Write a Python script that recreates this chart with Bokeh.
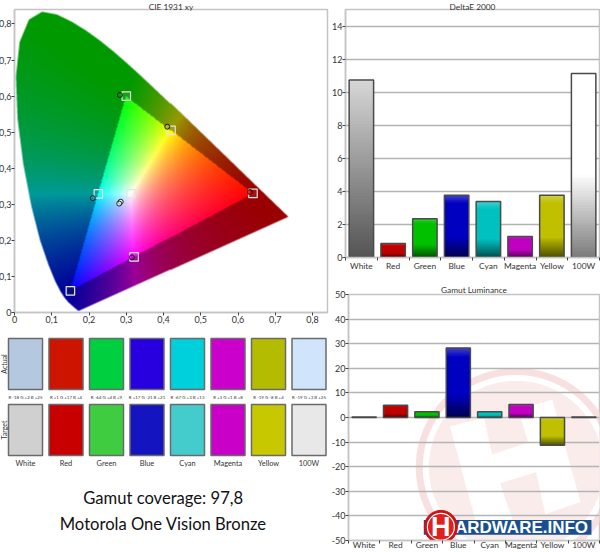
import numpy as np
from bokeh.embed import file_html
from bokeh.resources import INLINE
from bokeh.plotting import figure
from bokeh.layouts import row, column
from bokeh.models import Range1d, FixedTicker
from bokeh.core.properties import value

categories = ["White", "Red", "Green", "Blue", "Cyan", "Magenta", "Yellow", "100W"]
delta_e = [10.75, 0.85, 2.35, 3.78, 3.40, 1.27, 3.78, 11.15]
luminance = [0.2, 5.0, 2.3, 28.3, 2.3, 5.3, -11.3, 0.2]
rgb_diff = ["R -18 G +2 B +25", "R +1 G +17 B +4", "R -64 G +4 B +9", "R +17 G -21 B +21",
            "R -67 G +3 B +13", "R +3 G +1 B +8", "R -19 G -8 B +4", "R -19 G +3 B +25"]
actual_colors = ["#b4c8e0", "#cc1400", "#00d040", "#2800e0", "#00d0dc", "#cc00cc", "#b4bc00", "#d0e4fc"]
target_colors = ["#d0d0d0", "#c80000", "#40cc40", "#1414c0", "#44cccc", "#c800c8", "#c8c800", "#e8e8e8"]
bar_colors = ["#c0c0c0", "#c00000", "#00c000", "#0000c0", "#00c0c0", "#c000c0", "#c0c000", "#ffffff"]
target_x = [0.64, 0.30, 0.15, 0.225, 0.321, 0.42, 0.3127]
target_y = [0.33, 0.60, 0.06, 0.329, 0.154, 0.505, 0.329]
actual_x = [0.632, 0.283, 0.152, 0.210, 0.315, 0.410, 0.285, 0.281]
actual_y = [0.334, 0.603, 0.060, 0.317, 0.153, 0.515, 0.307, 0.302]
actual_fill = ["#c00000", "#00a000", "#000090", "#00a0c0", "#c000c0", "#a0a000", "#ffffff", "#ffffff"]
xy_ticks = [0, 0.1, 0.2, 0.3, 0.4, 0.5, 0.6, 0.7, 0.8]
locus_x = [0.1741, 0.1738, 0.1733, 0.1726, 0.1714, 0.1703, 0.1689, 0.1669, 0.1644, 0.1611, 0.1566, 0.1510,
           0.1440, 0.1355, 0.1241, 0.1096, 0.0913, 0.0687, 0.0454, 0.0235, 0.0082, 0.0039, 0.0139, 0.0389,
           0.0743, 0.1142, 0.1547, 0.1929, 0.2296, 0.2658, 0.3016, 0.3373, 0.3731, 0.4087, 0.4441, 0.4788,
           0.5125, 0.5448, 0.5752, 0.6029, 0.6270, 0.6482, 0.6658, 0.6915, 0.7079, 0.7190, 0.7260, 0.7347]
locus_y = [0.0050, 0.0049, 0.0048, 0.0048, 0.0051, 0.0058, 0.0069, 0.0086, 0.0109, 0.0138, 0.0177, 0.0227,
           0.0297, 0.0399, 0.0578, 0.0868, 0.1327, 0.2007, 0.2950, 0.4127, 0.5384, 0.6548, 0.7502, 0.8120,
           0.8338, 0.8262, 0.8059, 0.7816, 0.7543, 0.7243, 0.6923, 0.6589, 0.6245, 0.5896, 0.5547, 0.5202,
           0.4866, 0.4544, 0.4242, 0.3965, 0.3725, 0.3514, 0.3340, 0.3083, 0.2920, 0.2809, 0.2740, 0.2653]

FONT = "Lato"
INK = "#333333"
AXIS = "#c4c4c4"


def to_rgba(r, g, b, a=None):
    a = np.full(r.shape, 255) if a is None else a
    return (a.astype(np.uint32) << 24) | (b.astype(np.uint32) << 16) | (g.astype(np.uint32) << 8) | r.astype(np.uint32)


def locus_mask(X, Y):
    px, py = np.array(locus_x), np.array(locus_y)
    qx, qy = np.roll(px, 1), np.roll(py, 1)
    inside = np.zeros(X.shape, dtype=bool)
    for x0, y0, x1, y1 in zip(px, py, qx, qy):
        crossing = ((y0 > Y) != (y1 > Y)) & (X < (x1 - x0) * (Y - y0) / ((y1 - y0) or 1e-9) + x0)
        inside ^= crossing
    return inside


def cie_image(w, h, extent, ss=4):
    xs = (np.arange(w) + 0.5) / w * extent
    ys = (np.arange(h) + 0.5) / h * extent
    X, Y = np.meshgrid(xs, ys)
    xf = (np.arange(w * ss) + 0.5) / (w * ss) * extent
    yf = (np.arange(h * ss) + 0.5) / (h * ss) * extent
    fine = locus_mask(*np.meshgrid(xf, yf))
    alpha = fine.reshape(h, ss, w, ss).mean(axis=(1, 3)) * 255
    cx, cy, cz = X / Y, np.ones_like(X), (1 - X - Y) / Y
    r = 3.2406 * cx - 1.5372 * cy - 0.4986 * cz
    g = -0.9689 * cx + 1.8758 * cy + 0.0415 * cz
    b = 0.0557 * cx - 0.2040 * cy + 1.0570 * cz
    in_gamut = (r >= 0) & (g >= 0) & (b >= 0)
    stack = np.clip(np.stack([r, g, b]), 0, None)
    stack = stack / stack.max(axis=0, keepdims=True)
    shown = np.where(in_gamut, stack ** (1 / 1.15), stack * 0.6)
    shown = np.nan_to_num(shown * 255).astype(np.uint32)
    return to_rgba(shown[0], shown[1], shown[2], alpha.astype(np.uint32))


def hex_rgb(c):
    return np.array([int(c[i:i + 2], 16) for i in (1, 3, 5)], dtype=float)


def bar_gradient(color, n=64):
    base = hex_rgb(color)
    t = np.linspace(0, 1, n)  # 0 = top of bar
    if color == "#c0c0c0":
        stops, vals = [0, 1], [np.array([215.] * 3), np.array([85.] * 3)]
    elif color == "#ffffff":
        stops, vals = [0, 0.55, 1], [np.array([255.] * 3), np.array([255.] * 3), np.array([125.] * 3)]
    else:
        stops = [0, 0.14, 0.68, 1]
        vals = [base + (255 - base) * 0.25, base, base, base * 0.42]
    cols = np.stack([np.interp(t, stops, [v[i] for v in vals]) for i in range(3)])
    cols = cols[:, ::-1].astype(np.uint32)  # image rows run bottom-up
    return to_rgba(cols[0], cols[1], cols[2]).reshape(n, 1)


def style_axes(p, yticks, size="9px"):
    for ax in (p.xaxis[0], p.yaxis[0]):
        ax.axis_line_color = AXIS
        ax.axis_line_width = 1.5
        ax.major_tick_line_color = "#444444"
        ax.minor_tick_line_color = "#444444"
        ax.major_tick_in = 0
        ax.minor_tick_in = 0
        ax.major_tick_out = 3
        ax.minor_tick_out = 0
        ax.major_label_standoff = 0
        ax.major_label_text_font = FONT
        ax.major_label_text_font_size = size
        ax.major_label_text_color = INK
    p.yaxis[0].ticker = FixedTicker(ticks=yticks)
    p.yaxis[0].major_label_overrides = {t: str(t).replace(".", ",") for t in yticks}
    p.outline_line_color = AXIS
    p.outline_line_width = 1.5
    p.title.text_font = FONT
    p.title.text_font_size = "8.3px"
    p.title.text_font_style = "normal"
    p.title.text_color = INK
    p.title.align = "center"
    p.title.standoff = -4
    p.title.offset = 0


def bar_chart(title, vals, yrange, yticks, w, h, borders, standoff=0, label_off=0, margin=(0, 0, 0, 0)):
    left, right, top, bottom = borders
    p = figure(width=w, height=h, title=title, x_range=Range1d(0, 8), y_range=Range1d(*yrange),
               output_backend="svg", toolbar_location=None, min_border_left=left, min_border_right=right,
               min_border_top=top, min_border_bottom=bottom, background_fill_color="white", margin=margin)
    style_axes(p, yticks)
    p.title.standoff = standoff
    p.xaxis[0].ticker = FixedTicker(ticks=[i + 0.5 for i in range(8)], minor_ticks=list(range(9)))
    p.xaxis[0].major_label_overrides = {i + 0.5: c for i, c in enumerate(categories)}
    p.xaxis[0].major_label_text_font_size = "8.4px"
    p.xaxis[0].major_tick_out = 0
    p.xaxis[0].minor_tick_out = 3
    p.xaxis[0].major_label_standoff = label_off
    p.xgrid.visible = False
    p.ygrid[0].ticker = FixedTicker(ticks=yticks)
    p.ygrid.grid_line_color = "#b4b4b4"
    p.ygrid.grid_line_width = 1.5
    bw = 0.77
    for i, v in enumerate(vals):
        lo, hi = min(v, 0), max(v, 0)
        p.image_rgba(image=[bar_gradient(bar_colors[i])], x=i + 0.5 - bw / 2, y=lo, dw=bw, dh=hi - lo)
    p.quad(left=[i + 0.5 - bw / 2 for i in range(8)], right=[i + 0.5 + bw / 2 for i in range(8)],
           bottom=[min(v, 0) for v in vals], top=[max(v, 0) for v in vals],
           fill_alpha=0, line_color="#4a4a4a", line_width=1.5)
    return p


# ---- CIE diagram
extent = 0.84
p1 = figure(width=338, height=330, title="CIE 1931 xy", x_range=Range1d(0, extent), y_range=Range1d(0, extent),
            output_backend="svg", toolbar_location=None, min_border_left=15, min_border_right=3,
            min_border_top=9, min_border_bottom=18, margin=(0, 0, 0, -4))
style_axes(p1, xy_ticks)
p1.xaxis[0].ticker = FixedTicker(ticks=xy_ticks)
p1.xaxis[0].major_label_overrides = {t: str(t).replace(".", ",") for t in xy_ticks}
p1.grid.visible = False
p1.image_rgba(image=[cie_image(312, 303, extent)], x=0, y=0, dw=extent, dh=extent)
p1.scatter(target_x, target_y, marker="square", size=8.5, fill_color="white", fill_alpha=0.08,
           line_color="#e4e4e4", line_width=1.2)
p1.scatter(actual_x, actual_y, marker="circle", size=5, fill_color=actual_fill, fill_alpha=0.6,
           line_color="#111111", line_width=0.9)

# ---- swatches and captions
p2 = figure(width=330, height=222, x_range=Range1d(-25 / 40.5, 305 / 40.5), y_range=Range1d(222, 0),
            output_backend="svg", toolbar_location=None, min_border=0, outline_line_color=None)
p2.axis.visible = False
p2.grid.visible = False
xi = list(range(8))
p2.rect(xi, [33.5] * 8, width=0.84, height=51, fill_color=actual_colors, line_color="#6a6a6a", line_width=1.5)
p2.rect(xi, [99.5] * 8, width=0.84, height=51, fill_color=target_colors, line_color="#6a6a6a", line_width=1.5)
p2.text(xi, [66.5] * 8, text=rgb_diff, text_font=value(FONT), text_font_size="4.4px", text_color=INK,
        text_align="center", text_baseline="middle")
p2.text(xi, [132.5] * 8, text=categories, text_font=value(FONT), text_font_size="7.4px", text_color=INK,
        text_align="center", text_baseline="middle")
p2.text([-0.53] * 2, [33.5, 99.5], text=["Actual", "Target"], angle=np.pi / 2, text_font=value(FONT),
        text_font_size="7px", text_color=INK, text_align="center", text_baseline="middle")
p2.text([3.4, 3.4], [167, 193], text=["Gamut coverage: 97,8", "Motorola One Vision Bronze"], text_font=value(FONT),
        text_font_size="16.6px", text_color="#111111", text_align="center", text_baseline="middle")

# ---- bar charts
p3 = bar_chart("DeltaE 2000", delta_e, (0, 15.03), list(range(0, 15, 2)), 276, 280, (16, 1, 9, 23), standoff=-4,
               margin=(0, 0, 0, -5))
p4 = bar_chart("Gamut Luminance", luminance, (-50, 50), list(range(-50, 51, 10)), 278, 272, (19, 1, 14, 10),
               label_off=-4, margin=(0, 0, 0, -6))

# watermark and logo, positioned in reference pixels of the lower chart
fx = lambda px: (np.asarray(px, dtype=float) - 349) / (600 - 349 - 1) * 8
fy = lambda py: 50 - (np.asarray(py, dtype=float) - 294) / (541.7 - 294) * 100


def disc(cx, cy, r, n=120):
    a = np.linspace(0, 2 * np.pi, n)
    return fx(cx + r * np.cos(a)), fy(cy + r * np.sin(a))


for r, col in ((100, "#f9e0e0"), (93, "#ffffff"), (87, "#fbecec")):
    xs, ys = disc(516, 468, r)
    p4.patch(xs, ys, fill_color=col, line_color=None, level="image")
hx = [450, 484, 492, 528, 518, 552, 580, 545, 536, 500, 512, 478]
hy = [427, 418, 455, 443, 410, 400, 503, 515, 473, 484, 520, 531]
p4.patch(fx(hx), fy(hy), fill_color="white", line_color=None, level="image")
p4.quad(left=fx(424), right=fx(591), top=fy(521), bottom=fy(536), fill_color="#1a4f8f", line_color=None)
p4.text(fx([455]), fy([528.5]), text=["ARDWARE.INFO"], text_font=value("Liberation Sans"), text_font_style="bold",
        text_font_size="17px", text_color="white", text_baseline="middle", text_align="left")
p4.scatter(fx([441]), fy([528]), size=33, fill_color="#c81414", line_color="#c81414")
p4.scatter(fx([441]), fy([528]), size=27, fill_color="#e02020", line_color="white", line_width=1.2)
p4.text(fx([441]), fy([528.5]), text=["H"], text_font=value("Liberation Sans"), text_font_style="bold",
        text_font_size="27px", text_color="white", text_baseline="middle", text_align="center")

left_col = column(row(p1), row(p2), spacing=0)
right_col = column(row(p3), row(p4), spacing=0)
root = row(left_col, right_col, spacing=0, width=600, height=552, styles={"overflow": "hidden"})

open("out.html", "w").write(file_html(root, INLINE))
